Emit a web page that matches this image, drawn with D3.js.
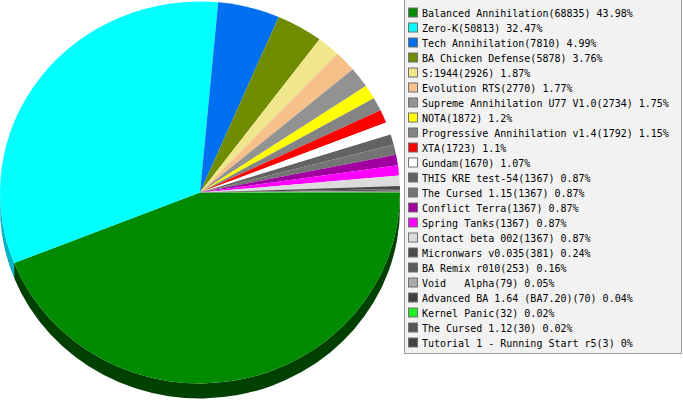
<!DOCTYPE html>
<html><head><meta charset="utf-8">
<script src="https://cdn.jsdelivr.net/npm/d3@7"></script>
<style>
html,body{margin:0;padding:0;background:#fff;}
svg{display:block;}
</style></head>
<body>
<svg id="chart" width="683" height="400"></svg>
<script>
const names = ["Balanced Annihilation","Zero-K","Tech Annihilation","BA Chicken Defense","S:1944","Evolution RTS","Supreme Annihilation U77 V1.0","NOTA","Progressive Annihilation v1.4","XTA","Gundam","THIS KRE test-54","The Cursed 1.15","Conflict Terra","Spring Tanks","Contact beta 002","Micronwars v0.035","BA Remix r010","Void   Alpha","Advanced BA 1.64 (BA7.20)","Kernel Panic","The Cursed 1.12","Tutorial 1 - Running Start r5"];
const values = [68835,50813,7810,5878,2926,2770,2734,1872,1792,1723,1670,1367,1367,1367,1367,1367,381,253,79,70,32,30,3];
const percents = ["43.98%","32.47%","4.99%","3.76%","1.87%","1.77%","1.75%","1.2%","1.15%","1.1%","1.07%","0.87%","0.87%","0.87%","0.87%","0.87%","0.24%","0.16%","0.05%","0.04%","0.02%","0.02%","0%"];
const colors = ["#008a00","#00ffff","#0070f0","#708c00","#f0e68c","#f5c08a","#929292","#ffff00","#848484","#ff0000","#ffffff","#626262","#747474","#a000a0","#ff00ff","#dcdcdc","#4a4a4a","#5a5a5a","#ababab","#404040","#22ee22","#545454","#444444"];
const sideColors = {0:"#004000",1:"#00b4c4"};

const svg = d3.select("#chart");
const cx = 200, cy = 192.5, rx = 200, ry = 191, depth = 15;
const k = ry / rx;

const pie = d3.pie().sort(null).value(d => d).startAngle(Math.PI/2).endAngle(Math.PI/2 + 2*Math.PI);
const arcs = pie(values);

const g = svg.append("g").attr("transform", `translate(${cx},${cy}) scale(1,${k})`);
const d = depth / k;

// 3D sides (front half only)
const frontLo = Math.PI/2, frontHi = 3*Math.PI/2;
arcs.forEach((a, i) => {
  const s = Math.max(a.startAngle, frontLo), e = Math.min(a.endAngle, frontHi);
  if (e <= s) return;
  const c0 = s - Math.PI/2, c1 = e - Math.PI/2;
  const p = d3.path();
  p.moveTo(rx*Math.cos(c0), rx*Math.sin(c0));
  p.arc(0, 0, rx, c0, c1, false);
  p.lineTo(rx*Math.cos(c1), rx*Math.sin(c1) + d);
  p.arc(0, d, rx, c1, c0, true);
  p.closePath();
  const col = sideColors[i] || d3.color(colors[i]).darker(1.2).formatHex();
  g.append("path").attr("d", p.toString()).attr("fill", col);
});

const arcGen = d3.arc().innerRadius(0).outerRadius(rx);
g.selectAll("path.slice").data(arcs).join("path")
  .attr("class","slice")
  .attr("d", arcGen)
  .attr("fill", (a,i) => colors[i]);

// Legend
const lx = 404.5, ly = -0.5, lw = 277, lh = 354;
svg.append("rect").attr("x", lx).attr("y", ly).attr("width", lw).attr("height", lh)
  .attr("fill", "#f2f2f2").attr("stroke", "#9a9a9a").attr("stroke-width", 1);

const rowY = d3.scaleLinear().domain([0, 1]).range([12.5, 27.5]);
const items = svg.append("g").selectAll("g").data(names).join("g")
  .attr("transform", (n,i) => `translate(0,${rowY(i)})`);
items.append("rect").attr("x", 408.5).attr("y", -4.5).attr("width", 9).attr("height", 9)
  .attr("fill", (n,i) => colors[i]).attr("stroke", "#707070").attr("stroke-width", 1);
items.append("text").attr("x", 422).attr("y", 4)
  .attr("font-family", "DejaVu Sans Mono, monospace").attr("font-size", "10px")
  .attr("fill", "#000").style("white-space", "pre")
  .text((n,i) => `${n}(${values[i]}) ${percents[i]}`);
</script>
</body></html>
